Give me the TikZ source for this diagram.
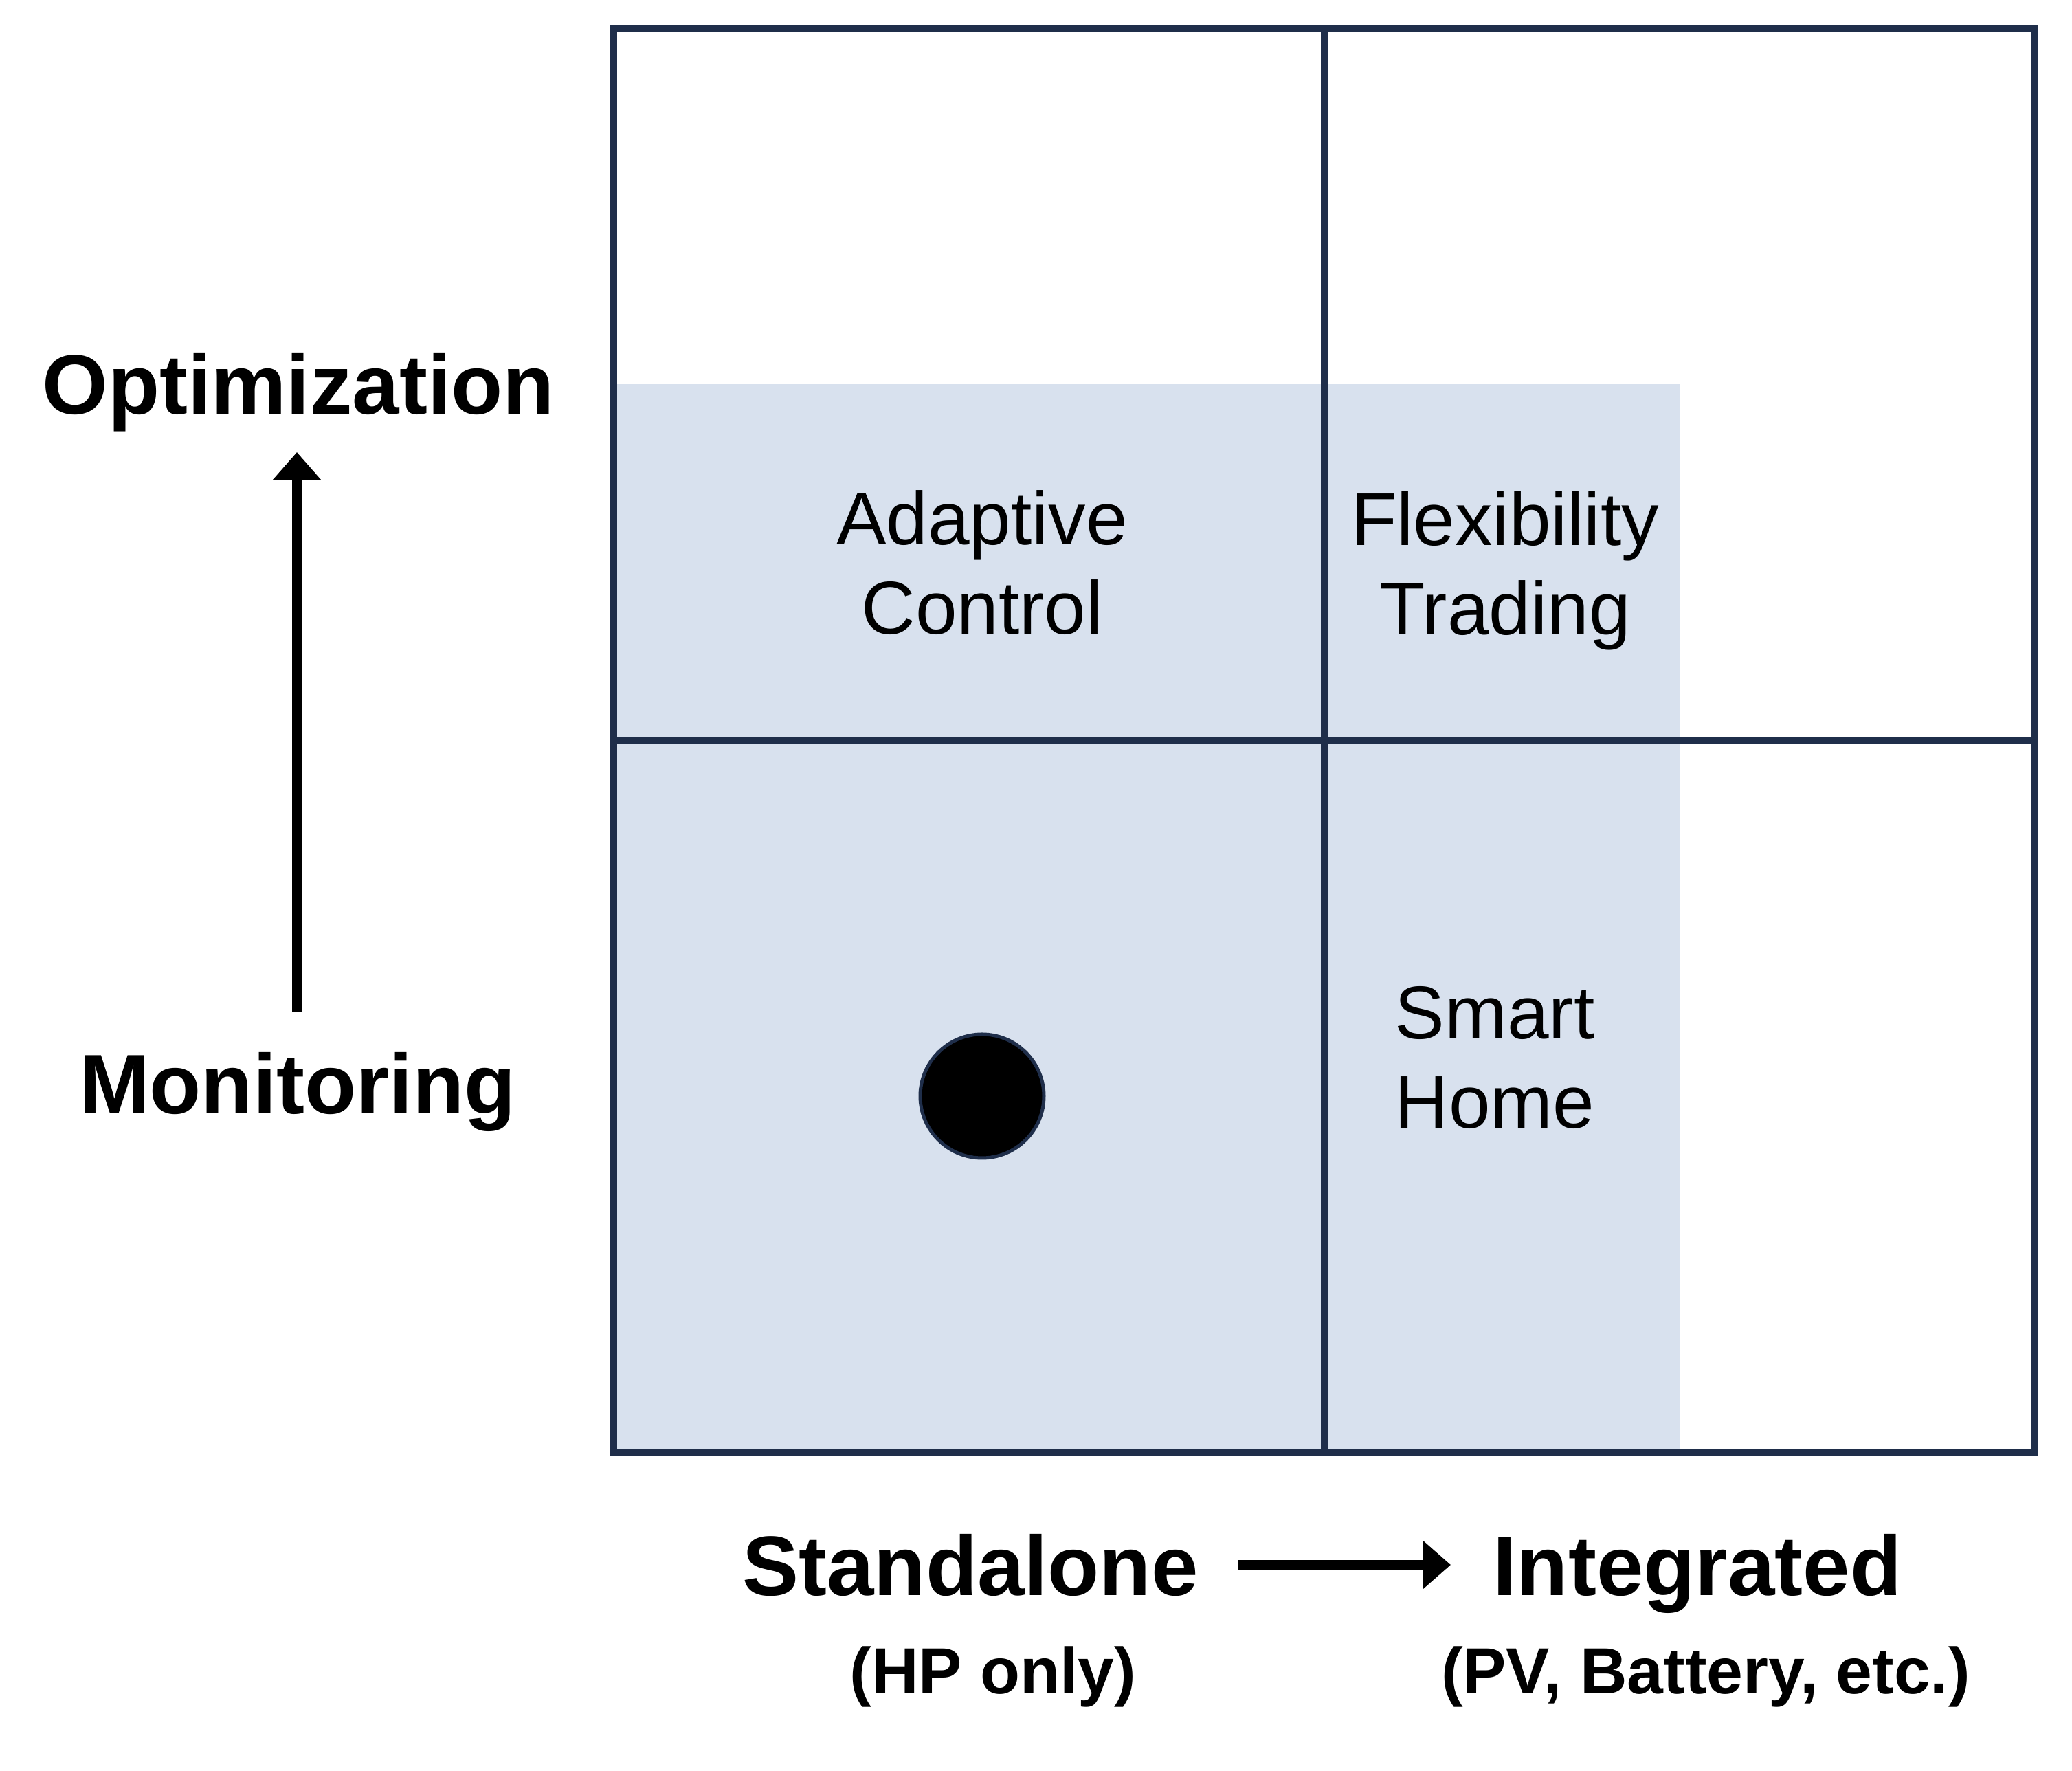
\documentclass[tikz,border=0pt]{standalone}
\usepackage{fontspec}
\setmainfont{Liberation Sans}
\usetikzlibrary{arrows.meta, positioning}
\definecolor{gridnavy}{RGB}{31,46,74}
\definecolor{shadeblue}{RGB}{216,225,238}

\begin{document}
\begin{tikzpicture}[
  axislbl/.style={font=\fontsize{35pt}{42pt}\selectfont\bfseries, inner sep=0pt, anchor=base},
  sublbl/.style={font=\fontsize{27pt}{32pt}\selectfont\bfseries, inner sep=0pt, anchor=base},
  cell/.style={font=\fontsize{31pt}{37pt}\selectfont, align=center, inner sep=0pt},
  axisarrow/.style={line width=0.14cm, -{Triangle[length=0.41cm, width=0.69cm]}},
  gridline/.style={draw=gridnavy, line width=0.1cm},
  dot/.style={circle, fill=black, draw=gridnavy, line width=0.05cm, minimum size=1.8cm, inner sep=0pt},
]
  \useasboundingbox (0,0) rectangle (30.15,25.77);

  % Shaded area
  \fill[shadeblue] (8.93,4.64) rectangle (24.44,20.18);

  % Grid
  \draw[gridline] (8.93,4.64) rectangle (29.61,25.36);
  \draw[gridline] (19.27,4.64) -- (19.27,25.36);
  \draw[gridline] (8.93,15.00) -- (29.61,15.00);

  % Cell labels
  \node[cell] (adapt) at (14.29,17.58) {Adaptive\\Control};
  \node[cell] (flex) at (21.90,17.47) {Flexibility\\Trading};
  \node[cell] (smart) at (21.75,10.38) {Smart\\Home};

  % Current position
  \node[dot] (hp) at (14.29,9.82) {};

  % Vertical axis
  \node[axislbl] (opt) at (4.34,19.74) {Optimization};
  \node[axislbl] (mon) at (4.33,9.56) {Monitoring};
  \coordinate (vlow) at (4.32,11.05);
  \coordinate (vhigh) at (4.32,19.19);
  \draw[axisarrow] (vlow) -- (vhigh);

  % Horizontal axis
  \node[axislbl] (stand) at (14.12,2.55) {Standalone};
  \node[axislbl] (integ) at (24.70,2.55) {Integrated};
  \node[sublbl] (hponly) at (14.45,1.12) {(HP only)};
  \node[sublbl] (pvbat) at (24.82,1.12) {(PV, Battery, etc.)};
  \coordinate (hleft) at (18.02,3.00);
  \coordinate (hright) at (21.11,3.00);
  \draw[axisarrow] (hleft) -- (hright);

\end{tikzpicture}
\end{document}
